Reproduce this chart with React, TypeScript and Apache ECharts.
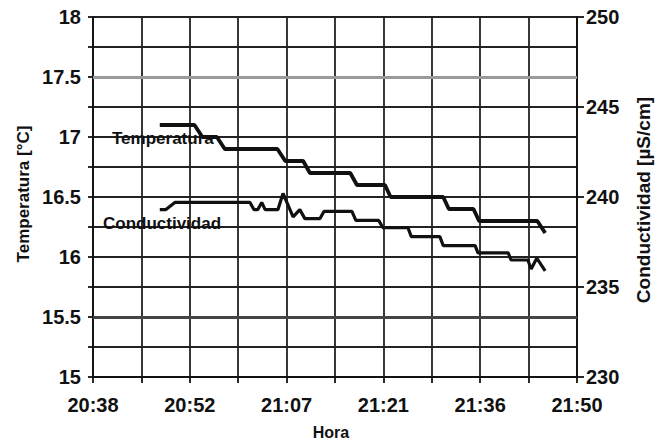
import React, { useEffect, useRef } from "react";
import * as echarts from "echarts";

// Time axis: 20:38:24 to 21:50:24, gridline every 7.2 min (432 s), label every other gridline
const X_START = "20:38:24";
const X_END = "21:50:24";
const X_STEP_S = 432;
const xTickLabels = ["20:38", "20:52", "21:07", "21:21", "21:36", "21:50"];

// Temperatura [°C] (left axis)
const tempTimes = [
  "20:48:20", "20:53:30", "20:54:40", "20:56:50", "20:58:00", "21:05:50",
  "21:07:00", "21:09:40", "21:10:40", "21:16:40", "21:17:40", "21:21:50",
  "21:22:40", "21:30:30", "21:31:20", "21:35:00", "21:35:50", "21:44:30",
  "21:45:40",
];
const tempValues = [
  17.1, 17.1, 17.0, 17.0, 16.9, 16.9,
  16.8, 16.8, 16.7, 16.7, 16.6, 16.6,
  16.5, 16.5, 16.4, 16.4, 16.3, 16.3,
  16.2,
];

// Conductividad [µS/cm] (right axis)
const condTimes = [
  "20:48:20", "20:49:15", "20:50:35", "21:01:45", "21:02:20", "21:02:55",
  "21:03:30", "21:04:00", "21:05:55", "21:06:40", "21:08:10", "21:09:10",
  "21:09:55", "21:12:10", "21:12:45", "21:16:55", "21:17:30", "21:20:55",
  "21:21:30", "21:25:15", "21:25:45", "21:30:00", "21:30:30", "21:35:15",
  "21:35:40", "21:40:10", "21:40:35", "21:43:05", "21:43:35", "21:44:25",
  "21:45:40",
];
const condValues = [
  239.3, 239.3, 239.7, 239.7, 239.3, 239.3,
  239.7, 239.3, 239.3, 240.2, 238.9, 239.3,
  238.8, 238.8, 239.2, 239.2, 238.7, 238.7,
  238.3, 238.3, 237.8, 237.8, 237.3, 237.3,
  236.9, 236.9, 236.5, 236.5, 236.0, 236.6,
  235.9,
];

// Two temperature gridlines printed heavier than the rest
const heavyGridTemps = [17.5, 15.5];
const heavyGridColors = ["#9a9a9a", "#444"];

const toSec = (t: string) => {
  const [h, m, s] = t.split(":").map(Number);
  return h * 3600 + m * 60 + (s || 0);
};

const FONT = '"Liberation Sans", Arial, sans-serif';
const INK = "#111";
const GRID = "#222";

export default function App() {
  const ref = useRef<HTMLDivElement>(null);

  useEffect(() => {
    if (!ref.current) return;
    const chart = echarts.init(ref.current, null, { renderer: "svg" });
    const xMin = toSec(X_START);
    const xMax = toSec(X_END);

    const tempData = tempTimes.map((t, i) => [toSec(t), tempValues[i]]);
    const condData = condTimes.map((t, i) => [toSec(t), condValues[i]]);

    const labelStyle = {
      color: INK,
      fontFamily: FONT,
      fontWeight: "bold" as const,
      fontSize: 20,
    };

    chart.setOption({
      animation: false,
      backgroundColor: "#fff",
      grid: { left: 93, right: 80, top: 17, bottom: 66, containLabel: false },
      xAxis: {
        type: "value",
        min: xMin,
        max: xMax,
        interval: X_STEP_S,
        axisLine: { show: true, lineStyle: { color: INK, width: 1.8 } },
        axisTick: { show: true, length: 6, lineStyle: { color: INK, width: 1.8 } },
        axisLabel: {
          ...labelStyle,
          margin: 18,
          showMinLabel: true,
          showMaxLabel: true,
          formatter: (v: number) => {
            const idx = Math.round((v - xMin) / X_STEP_S);
            return idx % 2 === 0 ? xTickLabels[idx / 2] ?? "" : "";
          },
        },
        splitLine: { show: true, lineStyle: { color: GRID, width: 1.8 } },
      },
      yAxis: [
        {
          type: "value",
          min: 15,
          max: 18,
          interval: 0.25,
          position: "left",
          axisLine: { show: true, lineStyle: { color: INK, width: 1.8 } },
          axisTick: { show: true, length: 5, lineStyle: { color: INK, width: 1.8 } },
          axisLabel: {
            ...labelStyle,
            margin: 12,
            formatter: (v: number) =>
              Math.abs(v * 2 - Math.round(v * 2)) < 1e-6 ? String(v) : "",
          },
          splitLine: { show: true, lineStyle: { color: GRID, width: 1.8 } },
        },
        {
          type: "value",
          min: 230,
          max: 250,
          interval: 5,
          position: "right",
          axisLine: { show: true, lineStyle: { color: INK, width: 1.8 } },
          axisTick: { show: true, length: 7, lineStyle: { color: INK, width: 1.8 } },
          axisLabel: { ...labelStyle, margin: 9 },
          splitLine: { show: false },
        },
      ],
      series: [
        {
          name: "Temperatura",
          type: "line",
          yAxisIndex: 0,
          data: tempData,
          showSymbol: false,
          lineStyle: { color: INK, width: 3.8 },
          z: 3,
          markLine: {
            silent: true,
            symbol: "none",
            label: { show: false },
            z: 1,
            data: heavyGridTemps.map((v, i) => ({
              yAxis: v,
              lineStyle: { color: heavyGridColors[i], width: 3, type: "solid" },
            })),
          },
        },
        {
          name: "Conductividad",
          type: "line",
          yAxisIndex: 1,
          data: condData,
          showSymbol: false,
          lineStyle: { color: INK, width: 3.2 },
          z: 3,
        },
      ],
      graphic: [
        {
          type: "text",
          x: 23,
          y: 194,
          rotation: Math.PI / 2,
          style: {
            text: "Temperatura [°C]",
            font: `bold 17px ${FONT}`,
            fill: INK,
            align: "center",
            verticalAlign: "middle",
          },
        },
        {
          type: "text",
          x: 643,
          y: 200,
          rotation: Math.PI / 2,
          style: {
            text: "Conductividad [µS/cm]",
            font: `bold 19px ${FONT}`,
            fill: INK,
            align: "center",
            verticalAlign: "middle",
          },
        },
        {
          type: "text",
          x: 331,
          y: 432,
          style: {
            text: "Hora",
            font: `bold 16px ${FONT}`,
            fill: INK,
            align: "center",
            verticalAlign: "middle",
          },
        },
        {
          type: "text",
          x: 112,
          y: 138,
          z: 10,
          style: {
            text: "Temperatura",
            font: `bold 17px ${FONT}`,
            fill: INK,
            align: "left",
            verticalAlign: "middle",
          },
        },
        {
          type: "text",
          x: 103,
          y: 223,
          z: 10,
          style: {
            text: "Conductividad",
            font: `bold 17px ${FONT}`,
            fill: INK,
            align: "left",
            verticalAlign: "middle",
          },
        },
      ],
    });

    return () => chart.dispose();
  }, []);

  return (
    <div
      ref={ref}
      style={{ position: "absolute", left: 0, top: 0, width: 657, height: 443, background: "#fff" }}
    />
  );
}
